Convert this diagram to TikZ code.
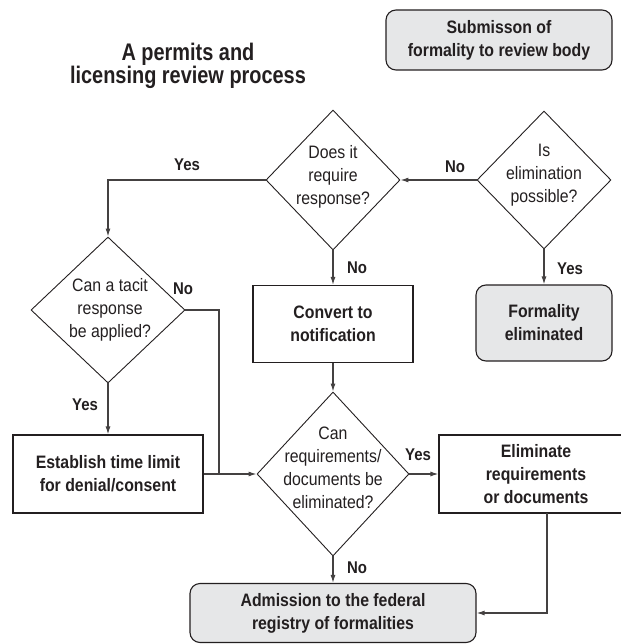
\documentclass[tikz,border=0pt]{standalone}
\usepackage{fontspec}
\setmainfont{Liberation Sans}[FakeStretch=0.88]
\newfontfamily\titlefam{Liberation Sans}[FakeStretch=0.83]
\usetikzlibrary{shapes.geometric,arrows.meta}

\definecolor{boxgray}{HTML}{E6E7E8}
\definecolor{ink}{HTML}{231F20}

\newcommand\titlefont{\titlefam\bfseries\fontsize{24}{23}\selectfont\lineskiplimit=-30pt\relax}

\tikzset{
  process/.style={draw=ink, line width=1.1pt, rectangle, text=ink, align=center,
    inner sep=0pt, font=\bfseries\fontsize{18}{23}\selectfont},
  terminal/.style={process, rounded corners=10pt, fill=boxgray},
  decision/.style={draw=ink, line width=0.9pt, diamond, inner sep=0pt},
  qtext/.style={text=ink, align=center, inner sep=0pt, font=\fontsize{18}{23}\selectfont},
  lbl/.style={text=ink, inner sep=0pt, font=\bfseries\fontsize{17}{20}\selectfont},
  flow/.style={draw=ink!85, line width=1.2pt, -{Latex[length=8pt,width=5pt]}},
  link/.style={draw=ink!85, line width=1.2pt},
}

\begin{document}
\begin{tikzpicture}[x=1pt,y=-1pt]
  \useasboundingbox (0,0) rectangle (620,644);

  % Title and start
  \node[text=ink, align=center, font=\titlefont] (title) at (188,66)
    {A permits and\\licensing review process};
  \node[terminal, minimum width=226pt, minimum height=60pt] (submit) at (499,40)
    {Submisson of\\formality to review body};

  % Decisions
  \node[decision, minimum width=134pt, minimum height=138pt] (elim) at (544,180) {};
  \node[qtext] (elimtxt) at (544,175) {Is\\elimination\\possible?};
  \node[decision, minimum width=134pt, minimum height=140pt] (resp) at (333,180) {};
  \node[qtext] (resptxt) at (333,177) {Does it\\require\\response?};
  \node[decision, minimum width=154pt, minimum height=146pt] (tacit) at (108,310) {};
  \node[qtext] (tacittxt) at (110,310) {Can a tacit\\response\\be applied?};
  \node[decision, minimum width=152pt, minimum height=164pt] (req) at (333,474) {};
  \node[qtext] (reqtxt) at (333,468) {Can\\requirements/\\documents be\\eliminated?};

  % Boxes
  \node[terminal, minimum width=136pt, minimum height=76pt] (formal) at (544,323)
    {Formality\\eliminated};
  \node[process, minimum width=160pt, minimum height=77pt] (conv) at (333,324)
    {Convert to\\notification};
  \node[process, minimum width=190pt, minimum height=78pt] (estab) at (108,474)
    {Establish time limit\\for denial/consent};
  \node[process, minimum width=194pt, minimum height=78pt] (elimreq) at (536,474)
    {Eliminate\\requirements\\or documents};
  \node[terminal, minimum width=286pt, minimum height=59pt] (admit) at (333,613)
    {Admission to the federal\\registry of formalities};

  \coordinate (join) at (219,474);
  \coordinate (drop) at (547,513);

  % Connectors
  \draw[flow] (elim.west) -- (resp.east);
  \draw[flow] (elim.south) -- (formal.north);
  \draw[flow] (resp.west) -| (tacit.north);
  \draw[flow] (resp.south) -- (conv.north);
  \draw[flow] (conv.south) -- (req.north);
  \draw[flow] (tacit.south) -- (estab.north);
  \draw[link] (tacit.east) -| (join);
  \draw[flow] (estab.east) -- (req.west);
  \draw[flow] (req.east) -- (elimreq.west);
  \draw[flow] (req.south) -- (admit.north);
  \draw[flow] (drop) |- (admit.east);

  % Labels
  \node[lbl] (elimno) at (455,167) {No};
  \node[lbl] (elimyes) at (570,269) {Yes};
  \node[lbl] (respyes) at (187,165) {Yes};
  \node[lbl] (respno) at (357,268) {No};
  \node[lbl] (tacitno) at (183,289) {No};
  \node[lbl] (tacityes) at (85,405) {Yes};
  \node[lbl] (reqyes) at (418,455) {Yes};
  \node[lbl] (reqno) at (357,568) {No};
\end{tikzpicture}
\end{document}
